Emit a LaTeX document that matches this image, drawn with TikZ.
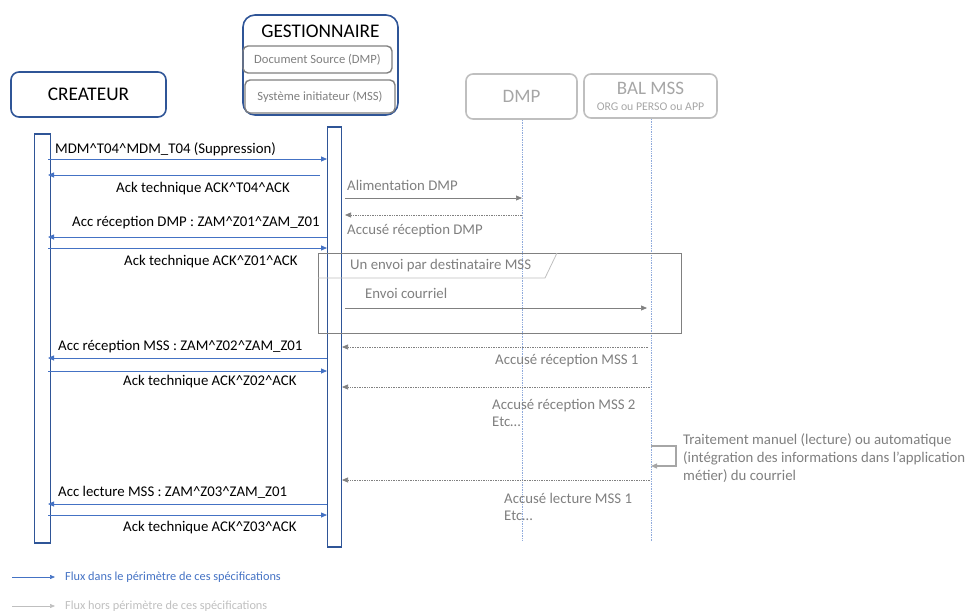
\documentclass[tikz,border=0pt]{standalone}
\usepackage{fontspec}
\setmainfont{Carlito}
\usetikzlibrary{arrows.meta}
\definecolor{dblue}{HTML}{2F5597}
\definecolor{mblue}{HTML}{4472C4}
\definecolor{lblue}{HTML}{8FAADC}
\definecolor{tgray}{HTML}{7F7F7F}
\definecolor{lgray}{HTML}{BFBFBF}
\definecolor{bgray}{HTML}{A6A6A6}
\definecolor{mgray}{HTML}{808080}
\newcommand\hatc{\textasciicircum}
\tikzset{
  actorbox/.style={draw=dblue, line width=1.6pt, rounded corners=8pt, inner sep=0},
  subbox/.style={draw=mgray, line width=1.4pt, rounded corners=5pt, inner sep=0, text=tgray, font=\fontsize{12.6}{14}\selectfont},
  extbox/.style={draw=lgray, line width=1.6pt, rounded corners=7pt, inner sep=0, text=bgray},
  actbar/.style={draw=dblue, line width=1.4pt, inner sep=0},
  blueflow/.style={draw=mblue, line width=0.8pt, -{Triangle[length=6pt,width=5pt]}},
  grayflow/.style={draw=mgray, line width=0.7pt, -{Triangle[length=6pt,width=5pt]}},
  grayret/.style={grayflow, densely dotted},
  lifeline/.style={draw=lblue, densely dotted, line width=0.7pt},
  msg/.style={font=\fontsize{14.8}{17}\selectfont, anchor=west, inner sep=0},
  gmsg/.style={msg, text=tgray},
}
\begin{document}
\begin{tikzpicture}[x=1pt,y=-1pt]
\useasboundingbox (0,0) rectangle (967,616);

% actors
\node[actorbox, minimum width=155pt, minimum height=45pt, font=\fontsize{19.3}{21}\selectfont] (crea) at (88.5,94.5) {CREATEUR};
\node[actorbox, rounded corners=12pt, minimum width=155pt, minimum height=100pt] (gest) at (320.5,65) {};
\node[font=\fontsize{19.3}{21}\selectfont, inner sep=0] (gesttitle) at (320.5,31) {GESTIONNAIRE};
\node[subbox, minimum width=149pt, minimum height=27pt] (docsrc) at (317.5,59.5) {Document Source (DMP)};
\node[subbox, minimum width=150pt, minimum height=33pt] (sysinit) at (320,96.5) {Système initiateur (MSS)};

\node[extbox, minimum width=111pt, minimum height=45pt, font=\fontsize{19}{21}\selectfont] (dmp) at (521.5,96.5) {DMP};
\node[extbox, minimum width=133pt, minimum height=44pt] (bal) at (650.5,96) {};
\node[text=bgray, font=\fontsize{19}{21}\selectfont, inner sep=0] (baltitle) at (650.5,88) {BAL MSS};
\node[text=bgray, font=\fontsize{11.8}{13}\selectfont, inner sep=0] (balsub) at (650.5,107) {ORG ou PERSO ou APP};

% lifelines
\coordinate (dmpend) at (522,540);
\coordinate (balend) at (651,542);
\draw[lifeline] (dmp.south -| dmpend) -- (dmpend);
\draw[lifeline] (bal.south -| balend) -- (balend);

% activation bars
\node[actbar, minimum width=16pt, minimum height=409pt] (cbar) at (42.5,338.5) {};
\node[actbar, minimum width=14pt, minimum height=420pt] (gbar) at (334.5,337) {};

% blue messages
\coordinate (m1a) at (48,159); \coordinate (m1b) at (327,159);
\draw[blueflow] (m1a) -- (m1b);
\node[msg] (l1) at (55,149) {MDM\hatc T04\hatc MDM\_T04 (Suppression)};
\coordinate (m2a) at (320,175); \coordinate (m2b) at (48,175);
\draw[blueflow] (m2a) -- (m2b);
\node[msg] (l2) at (116,188.5) {Ack technique ACK\hatc T04\hatc ACK};
\coordinate (m3a) at (327,237); \coordinate (m3b) at (48,237);
\draw[blueflow] (m3a) -- (m3b);
\node[msg] (l3) at (72,223) {Acc réception DMP : ZAM\hatc Z01\hatc ZAM\_Z01};
\coordinate (m4a) at (48,248); \coordinate (m4b) at (327,248);
\draw[blueflow] (m4a) -- (m4b);
\node[msg] (l4) at (124,261.5) {Ack technique ACK\hatc Z01\hatc ACK};
\coordinate (m5a) at (327,358); \coordinate (m5b) at (48,358);
\draw[blueflow] (m5a) -- (m5b);
\node[msg] (l5) at (58,346.5) {Acc réception MSS : ZAM\hatc Z02\hatc ZAM\_Z01};
\coordinate (m6a) at (48,371); \coordinate (m6b) at (327,371);
\draw[blueflow] (m6a) -- (m6b);
\node[msg] (l6) at (123,382) {Ack technique ACK\hatc Z02\hatc ACK};
\coordinate (m7a) at (327,504); \coordinate (m7b) at (48,504);
\draw[blueflow] (m7a) -- (m7b);
\node[msg] (l7) at (58,492) {Acc lecture MSS : ZAM\hatc Z03\hatc ZAM\_Z01};
\coordinate (m8a) at (48,515); \coordinate (m8b) at (327,515);
\draw[blueflow] (m8a) -- (m8b);
\node[msg] (l8) at (123,528) {Ack technique ACK\hatc Z03\hatc ACK};

% gray messages
\coordinate (g1a) at (345,198); \coordinate (g1b) at (522,198);
\draw[grayflow] (g1a) -- (g1b);
\node[gmsg] (gl1) at (347,185.5) {Alimentation DMP};
\coordinate (g2a) at (522,215); \coordinate (g2b) at (345,215);
\draw[grayret] (g2a) -- (g2b);
\node[gmsg] (gl2) at (347,231) {Accusé réception DMP};

% loop frame
\draw[draw=mgray, line width=0.8pt] (318,253) rectangle (681,333);
\coordinate (fr1) at (318,278); \coordinate (fr2) at (545,278); \coordinate (fr3) at (557,253);
\draw[draw=lgray, line width=0.8pt] (fr1) -- (fr2) -- (fr3);
\node[gmsg] (frlabel) at (350,266) {Un envoi par destinataire MSS};

\coordinate (g3a) at (345,308); \coordinate (g3b) at (647,308);
\draw[grayflow] (g3a) -- (g3b);
\node[gmsg] (gl3) at (365,293.5) {Envoi courriel};

\coordinate (g4a) at (648,347); \coordinate (g4b) at (342,347);
\draw[grayret] (g4a) -- (g4b);
\node[gmsg] (gl4) at (495,361) {Accusé réception MSS 1};

\coordinate (g5a) at (650,387); \coordinate (g5b) at (342,387);
\draw[grayret] (g5a) -- (g5b);
\node[gmsg, align=left] (gl5) at (492,412.5) {Accusé réception MSS 2\\Etc…};

% self loop
\coordinate (s1) at (651,446); \coordinate (s2) at (676,446); \coordinate (s3) at (676,466); \coordinate (s4) at (651,466);
\draw[draw=bgray, line width=1.2pt, -{Triangle[length=6pt,width=5pt]}] (s1) -- (s2) -- (s3) -- (s4);
\node[gmsg, align=left, font=\fontsize{14.8}{18}\selectfont] (sl) at (683,458) {Traitement manuel (lecture) ou automatique\\(intégration des informations dans l’application\\métier) du courriel};

\coordinate (g6a) at (650,480); \coordinate (g6b) at (342,480);
\draw[grayret] (g6a) -- (g6b);
\node[gmsg, align=left] (gl6) at (504,507) {Accusé lecture MSS 1\\Etc…};

% legend
\coordinate (lg1a) at (12,577); \coordinate (lg1b) at (55,577);
\draw[draw=mblue, line width=0.6pt, -{Triangle[length=5pt,width=4pt]}] (lg1a) -- (lg1b);
\node[anchor=west, inner sep=0, text=mblue, font=\fontsize{12.3}{14}\selectfont] (lgt1) at (65,577) {Flux dans le périmètre de ces spécifications};
\coordinate (lg2a) at (12,606); \coordinate (lg2b) at (55,606);
\draw[draw=lgray, line width=0.6pt, -{Triangle[length=5pt,width=4pt]}] (lg2a) -- (lg2b);
\node[anchor=west, inner sep=0, text=lgray, font=\fontsize{12.3}{14}\selectfont] (lgt2) at (65,606) {Flux hors périmètre de ces spécifications};
\end{tikzpicture}
\end{document}
